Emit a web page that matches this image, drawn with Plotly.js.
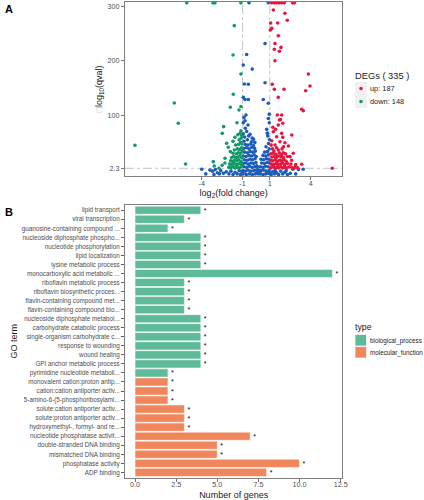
<!DOCTYPE html>
<html>
<head>
<meta charset="utf-8">
<script src="https://cdn.plot.ly/plotly-3.0.1.min.js"></script>
<style>html,body{margin:0;padding:0;background:#fff;}#chart{width:424px;height:500px;}</style>
</head>
<body>
<div id="chart"></div>
<script>
// ---------- Panel A: volcano data (log2 fold change, -log10 qval) ----------
const upX = [1.14,1.33,1.50,1.70,1.87,2.06,2.68,2.80,
  1.26,2.11,2.28,1.06,1.58,1.14,1.04,1.62,1.38,1.82,1.33,1.70,1.38,3.83,1.18,3.95,1.33,2.04,3.63,1.62,3.34,3.46,5.59,
  1.55,1.87,1.70,1.95,1.62,1.26,1.87,1.50,1.95,2.61,1.75,2.11,1.14,1.38,2.36,1.62,1.99,2.72,2.48,3.34,
  1.05,1.20,1.35,1.50,1.65,1.80,1.95,2.10,2.25,2.45,2.65,2.85,3.05,
  1.10,1.28,1.45,1.60,1.78,1.92,2.08,2.30,2.55,2.90,
  1.05,1.22,1.40,1.55,1.72,1.88,2.05,2.20,2.60,
  1.15,1.32,1.48,1.65,1.82,2.00,2.30,
  1.08,1.25,1.45,1.70,1.85,2.15,
  1.20,1.50,1.90,1.30,2.00,1.10,1.22,1.42,1.78];
const upY = [307,307,307,307,307,307,307,307,
  294,288,275,270,270,260,257,246.5,232,225,221.5,218,200.5,176,157,153.8,147.8,147.8,145,133,111,108.4,2.3,
  100.5,100.5,91.2,85.2,82,69.7,66.7,60.5,59.4,63.6,51.3,49.4,53.1,45.2,43.4,36,31,30,23.7,9.7,
  3,5,3,4,3,5,3,4,3,5,3,4,3,
  10,9,11,9,10,12,9,11,10,9,
  17,16,18,15,17,16,18,15,17,
  23,24,22,25,23,22,24,
  29,30,28,31,27,29,
  38,40,38,34,42,45,78,74,92];

const downX = [-5.10,-3.17,-3.03,-1.12,-1.61,-1.70,-1.12,-1.68,-6.01,-5.72,-8.90,-5.18,-1.90,-1.26,-1.12,
  -2.39,-2.49,-1.41,-2.17,-2.05,-1.56,-1.51,-1.19,-1.12,-2.29,-3.15,-3.08,-2.73,
  -2.00,-1.85,-1.70,-1.55,-1.40,-1.25,-1.10,
  -1.95,-1.78,-1.62,-1.48,-1.32,-1.18,-1.05,
  -1.88,-1.72,-1.58,-1.42,-1.28,-1.12,
  -1.80,-1.65,-1.50,-1.35,-1.20,-1.06,
  -1.70,-1.45,-1.30,-1.15,-1.03,
  -1.60,-1.38,-1.22,-1.08,
  -1.30,-1.15,-1.05,-1.25,-1.10,-1.05,-1.35,-1.70,-1.90,-2.30,-2.50];
const downY = [307,307,307,307,265,211,176,138.6,122.6,85.2,44.7,10.2,114.6,109.7,116,
  79,66.7,86.3,48.3,41,59.4,45.2,66.7,71.5,20.7,14.5,6.5,2.3,
  4,3,5,3,4,3,5,
  10,9,11,9,10,11,9,
  16,15,17,16,18,15,
  22,24,22,23,25,22,
  30,29,31,30,34,
  36,38,37,40,
  46,50,47,55,58,63,64,52,33,12,8];

const nsX = [-0.53,0.89,-0.70,-0.95,-0.29,-0.87,-0.58,0.65,0.65,-0.95,-0.82,-0.58,0.52,0.89,
  -0.75,-0.95,-0.82,0.96,0.89,0.96,0.77,0.82,
  -0.95,-0.72,-0.50,-0.28,-0.06,0.05,
  -0.98,-0.80,-0.60,-0.40,-0.18,0.02,
  -0.90,-0.70,-0.50,-0.30,-0.10,0.04,
  -0.97,-0.78,-0.58,-0.38,-0.20,-0.02,
  -0.88,-0.66,-0.46,-0.26,-0.08,
  -0.95,-0.75,-0.55,-0.35,-0.15,0.00,
  -0.85,-0.64,-0.44,-0.24,-0.06,
  -0.92,-0.72,-0.52,-0.32,-0.12,
  -0.80,-0.60,-0.40,-0.20,
  -0.90,-0.65,-0.35,-0.10,
  -0.85,-0.55,-0.95,-0.70,-0.30,-0.80,-0.60,-0.90,-0.45,-0.20,
  0.30,0.50,0.70,0.90,1.05,
  0.35,0.55,0.75,0.95,
  0.30,0.48,0.68,0.88,
  0.40,0.60,0.80,0.97,
  0.35,0.55,0.75,0.92,
  0.50,0.70,0.88,
  0.62,0.82,0.95,0.72,0.90,0.98,0.85,
  0.15,0.20,0.12,0.25,
  -4.00,-3.40,-3.20,-3.00,-2.85,-2.60,-2.40,-2.20,-2.00,-1.85,-1.70,-1.55,-1.40,-1.25,-1.15,-1.05,-3.70,-3.10,-2.70,
  1.10,1.20,1.35,1.50,1.65,1.80,1.95,2.10,2.30,2.50,2.70,2.90,3.10,3.45,2.20,1.40];
const nsY = [307,307,212,192.5,185,157.5,157,160,232,133,129,129,129,122,
  100.5,86,90,102,94,86,74,67,
  -8,-9,-8,-9,-8,-6,
  -2,-3,-1,-3,-2,-1,
  5,4,6,4,5,7,
  11,12,10,12,11,13,
  18,17,19,18,20,
  25,24,26,25,27,24,
  32,31,33,32,34,
  39,40,38,41,39,
  46,45,47,44,
  52,55,51,50,
  60,62,66,70,58,76,82,96,65,56,
  -8,-9,-8,-7,-8,
  -2,-1,-3,-2,
  5,4,6,5,
  12,11,13,12,
  19,18,20,19,
  26,25,27,
  32,33,38,42,48,55,62,
  -8,-2,4,-5,
  0.5,-1,-3,0,-6,-2,-7,-4,-8,-3,-9,-5,-8,-2,-9,-4,-8,-9,-8,
  -9,-4,-8,-6,-9,-3,-8,-5,-9,-7,0.5,-8,0,0.5,-2,-2];

const volcanoXTicks = [-4,-1,1,4];
const volcanoYTicks = [2.3,100,200,300];
const volcanoYTickText = ['2.3','100','200','300'];
const upLabel = 'up: 187';
const downLabel = 'down: 148';
const degTitle = 'DEGs ( 335 )';

// ---------- Panel B: GO enrichment ----------
const bpTerms = ['lipid transport','viral transcription','guanosine-containing compound ...',
  'nucleoside diphosphate phospho...','nucleotide phosphorylation','lipid localization',
  'lysine metabolic process','monocarboxylic acid metabolic ...','riboflavin metabolic process',
  'riboflavin biosynthetic proces...','flavin-containing compound met...','flavin-containing compound bio...',
  'nucleoside diphosphate metabol...','carbohydrate catabolic process','single-organism carbohydrate c...',
  'response to wounding','wound healing','GPI anchor metabolic process','pyrimidine nucleotide metaboli...'];
const bpCounts = [4,3,2,4,4,4,4,12,3,3,3,3,4,4,4,4,4,4,2];
const mfTerms = ['monovalent cation:proton antip...','cation:cation antiporter activ...',
  '5-amino-6-(5-phosphoribosylami...','solute:cation antiporter activ...','solute:proton antiporter activ...',
  'hydroxymethyl-, formyl- and re...','nucleotide phosphatase activit...','double-stranded DNA binding',
  'mismatched DNA binding','phosphatase activity','ADP binding'];
const mfCounts = [2,2,2,3,3,3,7,5,5,10,8];
const goXTicks = [0,2.5,5,7.5,10,12.5];
const typeNames = ['biological_process','molecular_function'];

// ---------- layout helpers ----------
const W = 424, H = 500;
const px = p => p / W;
const py = p => 1 - p / H;
const RED = '#E8163F', GREEN = '#12996A', BLUE = '#1B5DBA';
const BPC = '#5FBA9A', MFC = '#F0875C';
const FONT = 'Liberation Sans, Arial, sans-serif';
const TICKC = '#4D4D4D';

const mk = (x, y, c) => ({x: x, y: y, type: 'scatter', mode: 'markers', xaxis: 'x', yaxis: 'y',
  marker: {color: c, size: 3.6, line: {width: 0}}, showlegend: false, hoverinfo: 'skip'});

const allTerms = bpTerms.concat(mfTerms);

const barTrace = (vals, terms, name, color) => ({type: 'bar', orientation: 'h', x: vals, y: terms,
  xaxis: 'x2', yaxis: 'y2', name: name,
  marker: {color: color, line: {color: 'rgba(255,255,255,0.75)', width: 0.7}},
  text: vals.map(() => '*'), textposition: 'outside', cliponaxis: false, constraintext: 'none',
  textfont: {size: 7, color: '#000', family: FONT}, showlegend: false, hoverinfo: 'skip'});

const traces = [
  mk(nsX, nsY, BLUE),
  mk(downX, downY, GREEN),
  mk(upX, upY, RED),
  barTrace(bpCounts, bpTerms, typeNames[0], BPC),
  barTrace(mfCounts, mfTerms, typeNames[1], MFC)
];

const axisCommon = {showgrid: false, zeroline: false, showline: true, mirror: true,
  linecolor: '#808080', linewidth: 1, ticks: 'outside', ticklen: 3, tickwidth: 0.8, tickcolor: '#555',
  tickfont: {size: 7.2, color: TICKC, family: FONT}, automargin: false};

const shapes = [
  {type: 'line', xref: 'x', yref: 'y domain', x0: -1, x1: -1, y0: 0, y1: 1, layer: 'below',
   line: {color: '#BDBDBD', width: 0.9, dash: 'dashdot'}},
  {type: 'line', xref: 'x', yref: 'y domain', x0: 1, x1: 1, y0: 0, y1: 1, layer: 'below',
   line: {color: '#BDBDBD', width: 0.9, dash: 'dashdot'}},
  {type: 'line', xref: 'x domain', yref: 'y', x0: 0, x1: 1, y0: 2.3, y1: 2.3, layer: 'below',
   line: {color: '#BDBDBD', width: 0.9, dash: 'dashdot'}},
  // legend A keys
  {type: 'rect', xref: 'paper', yref: 'paper', x0: px(355), x1: px(367), y0: py(95), y1: py(82),
   fillcolor: '#F0F0F0', line: {width: 0}},
  {type: 'rect', xref: 'paper', yref: 'paper', x0: px(355), x1: px(367), y0: py(108), y1: py(95),
   fillcolor: '#F0F0F0', line: {width: 0}},
  {type: 'circle', xref: 'paper', yref: 'paper', x0: px(359.2), x1: px(362.8), y0: py(90.3), y1: py(86.7),
   fillcolor: RED, line: {width: 0}},
  {type: 'circle', xref: 'paper', yref: 'paper', x0: px(359.2), x1: px(362.8), y0: py(103.3), y1: py(99.7),
   fillcolor: GREEN, line: {width: 0}},
  // legend B keys
  {type: 'rect', xref: 'paper', yref: 'paper', x0: px(355), x1: px(366.5), y0: py(346), y1: py(334.5),
   fillcolor: BPC, line: {color: '#ffffff', width: 0.7}},
  {type: 'rect', xref: 'paper', yref: 'paper', x0: px(355), x1: px(366.5), y0: py(358), y1: py(346.5),
   fillcolor: MFC, line: {color: '#ffffff', width: 0.7}}
];

const ann = (text, x, y, size, opts) => Object.assign({text: text, xref: 'paper', yref: 'paper',
  x: px(x), y: py(y), xanchor: 'left', yanchor: 'middle', showarrow: false,
  font: {size: size, color: '#1a1a1a', family: FONT}}, opts || {});

const annotations = [
  ann('<b>A</b>', 3, 9, 11, {font: {size: 11, color: '#000', family: FONT}}),
  ann('<b>B</b>', 3, 212, 11, {font: {size: 11, color: '#000', family: FONT}}),
  ann(degTitle, 353, 76, 9.3),
  ann(upLabel, 368, 88.5, 7.4),
  ann(downLabel, 368, 101.5, 7.4),
  ann('type', 353, 327, 8.8),
  ann(typeNames[0], 368, 340.5, 6.3),
  ann(typeNames[1], 368, 352.5, 6.3)
];

const layout = {
  width: W, height: H,
  margin: {l: 0, r: 0, t: 0, b: 0, pad: 0},
  paper_bgcolor: '#fff', plot_bgcolor: '#fff',
  font: {family: FONT, color: '#1a1a1a'},
  barmode: 'overlay', bargap: 0.1,
  showlegend: false,
  xaxis: Object.assign({}, axisCommon, {domain: [px(125), px(342.3)], anchor: 'y',
    range: [-9.63, 6.32], tickvals: volcanoXTicks, ticktext: volcanoXTicks.map(String),
    ticklabelstandoff: -3,
    title: {text: 'log<sub>2</sub>(fold change)', standoff: 3, font: {size: 9, color: '#1a1a1a', family: FONT}}}),
  yaxis: Object.assign({}, axisCommon, {domain: [py(176), py(2)], anchor: 'x',
    range: [-11.9, 308.6], tickvals: volcanoYTicks, ticktext: volcanoYTickText,
    title: {text: '<span style="color:#B0B0B0">\u25A1</span>log<sub>10</sub>(qval)', standoff: 3,
      font: {size: 9, color: '#1a1a1a', family: FONT}}}),
  xaxis2: Object.assign({}, axisCommon, {domain: [px(125), px(342.3)], anchor: 'y2',
    range: [-0.61, 12.6], tickvals: goXTicks, ticktext: goXTicks.map(v => v.toFixed(1)),
    ticklabelstandoff: -3,
    title: {text: 'Number of genes', standoff: 4, font: {size: 9, color: '#1a1a1a', family: FONT}}}),
  yaxis2: Object.assign({}, axisCommon, {domain: [py(477.8), py(204.8)], anchor: 'x2',
    type: 'category', categoryorder: 'array', categoryarray: allTerms, range: [29.6, -0.6],
    tickfont: {size: 6.3, color: TICKC, family: FONT}, tickcolor: '#333',
    title: {text: 'GO term', standoff: 2, font: {size: 9, color: '#1a1a1a', family: FONT}}}),
  shapes: shapes,
  annotations: annotations
};

Plotly.newPlot('chart', traces, layout, {displayModeBar: false, staticPlot: true});
</script>
</body>
</html>
